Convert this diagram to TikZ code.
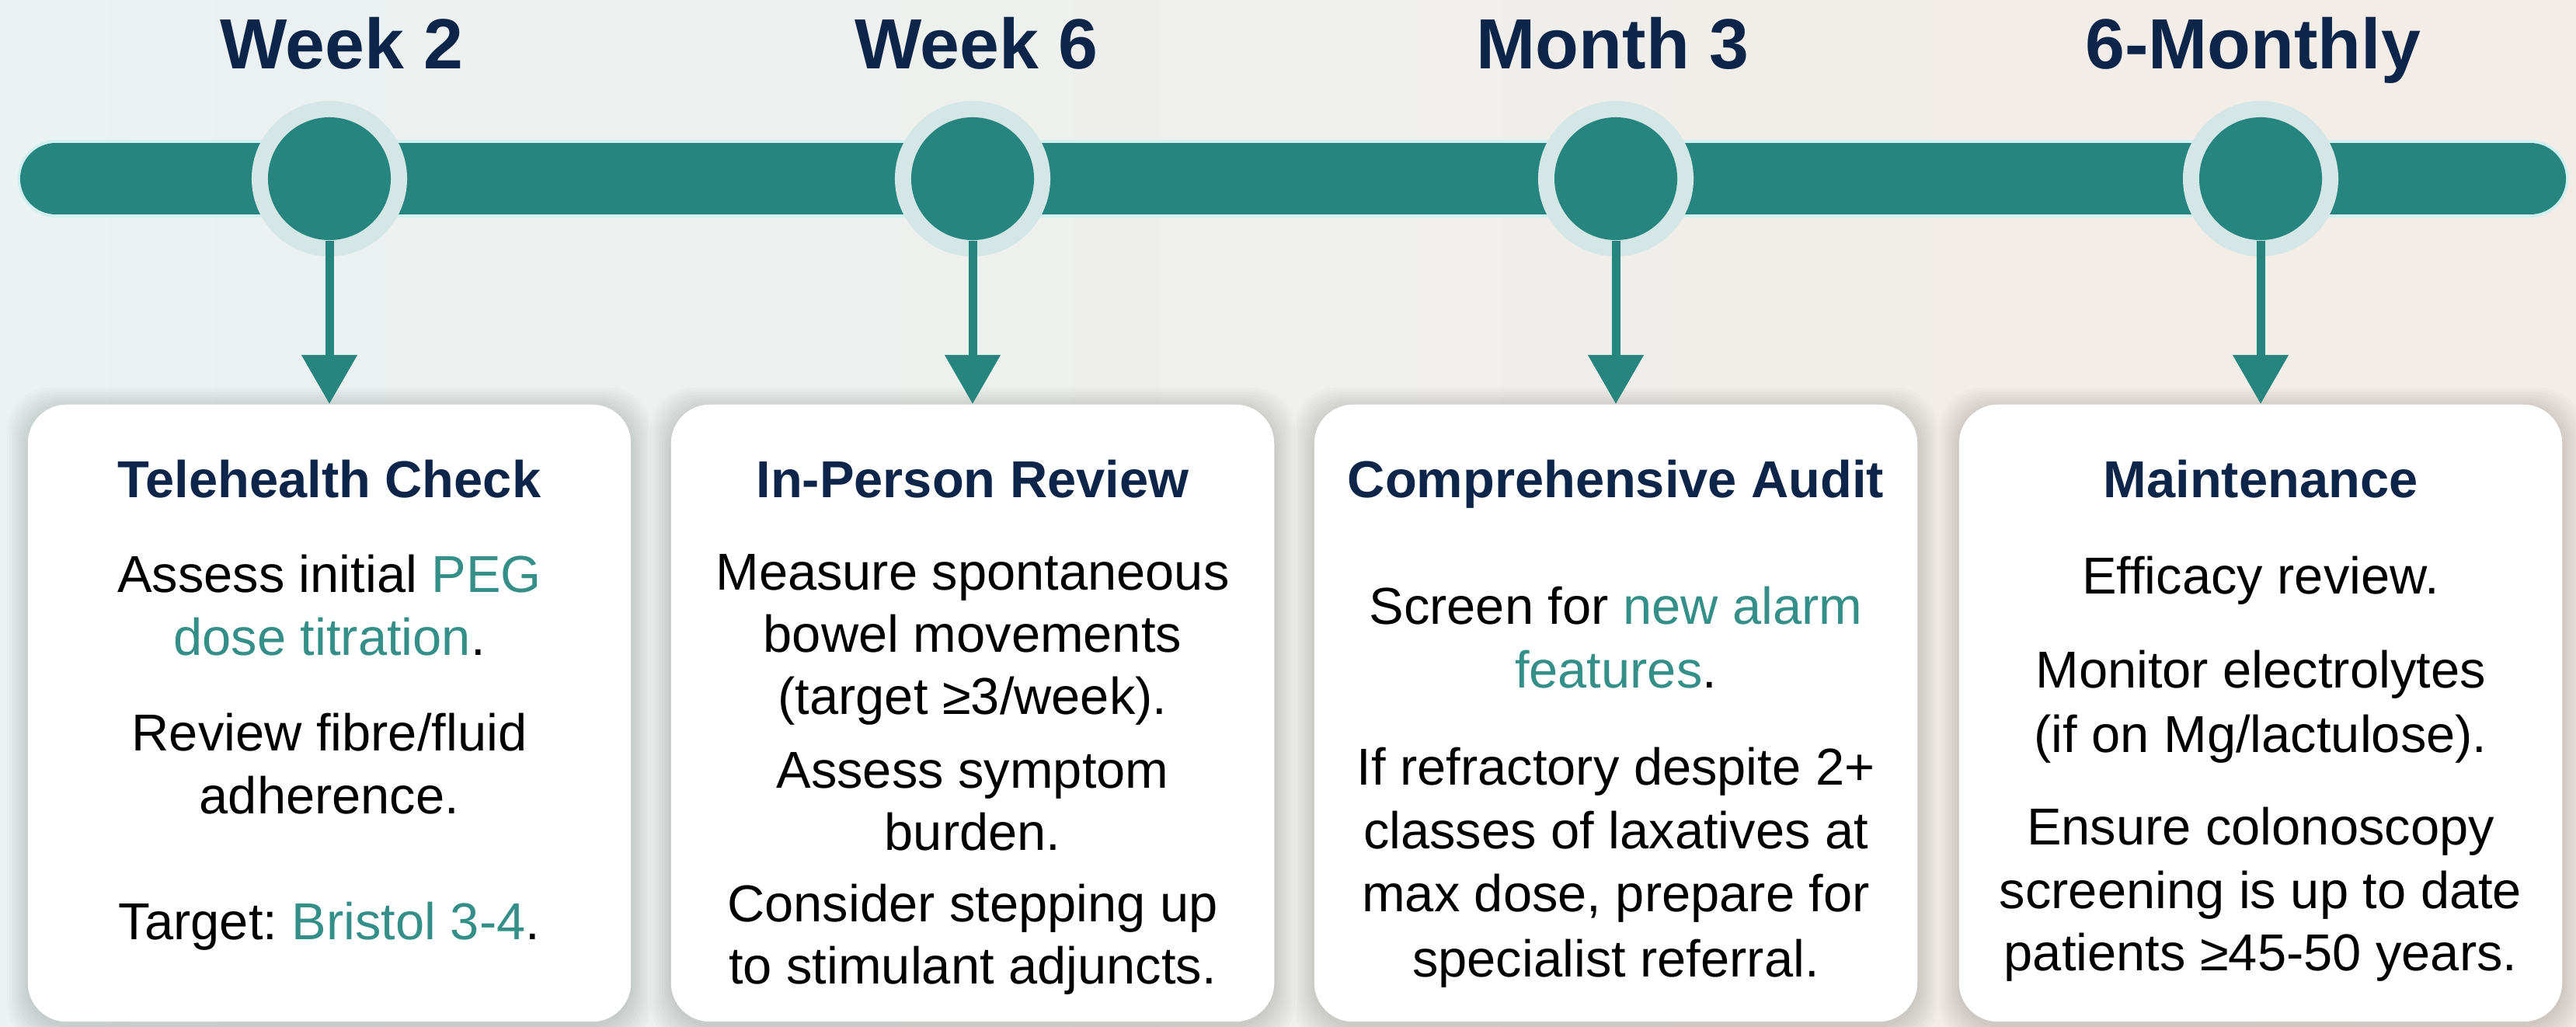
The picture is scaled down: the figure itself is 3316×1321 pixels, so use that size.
\documentclass[tikz,border=0pt]{standalone}
\usepackage{fontspec}
\setmainfont{Liberation Sans}
\usetikzlibrary{arrows.meta}
\definecolor{tealA}{RGB}{39,133,128}
\definecolor{haloC}{RGB}{212,230,229}
\definecolor{navy}{RGB}{12,37,72}
\definecolor{acc}{RGB}{52,143,136}
\definecolor{bgL}{RGB}{234,242,242}
\definecolor{bgR}{RGB}{244,236,230}
\definecolor{barglow}{RGB}{210,240,240}
\newcommand\bodyline[4]{\node[body] (#1) at (#2,#3) {#4};}
\frenchspacing
\begin{document}
\begin{tikzpicture}[x=0.01cm,y=-0.01cm,
  heading/.style={font=\fontsize{26}{30}\selectfont\bfseries, text=navy, anchor=base, inner sep=0},
  cardtitle/.style={font=\fontsize{19}{23}\selectfont\bfseries, text=navy, anchor=base, inner sep=0},
  body/.style={font=\fontsize{19}{23}\selectfont, text=black, anchor=base, inner sep=0},
  card/.style={fill=white, rounded corners=0.5cm, minimum width=7.76cm, minimum height=7.94cm, anchor=north, inner sep=0},
  halo/.style={circle, fill=haloC, minimum size=2cm, inner sep=0},
  dot/.style={circle, fill=tealA, minimum size=1.58cm, inner sep=0},
  conn/.style={draw=tealA, line width=0.11cm, -{Triangle[width=0.69cm,length=0.63cm]}},
]
\useasboundingbox (0,0) rectangle (3316,1321);
\fill[left color=bgL, right color=bgR] (0,0) rectangle (3316,1321);
% card shadows
\foreach \cx in {424,1252,2080,2910}{
  \foreach \i in {1,...,9}{
    \fill[black, opacity=0.016, rounded corners=0.56cm] (\cx-388-\i*3, 520-\i*3+6) rectangle (\cx+388+\i*3, 1314+\i*3+6);
  }
}
% cards
\node[card] (card1) at (424,520) {};
\node[card] (card2) at (1252,520) {};
\node[card] (card3) at (2080,520) {};
\node[card] (card4) at (2910,520) {};
% timeline bar
\coordinate (barL) at (72,230);
\coordinate (barR) at (3257,230);
\draw[barglow, line width=0.99cm, line cap=round] (barL) -- (barR);
\draw[tealA, line width=0.92cm, line cap=round] (barL) -- (barR);
% milestones
\node[halo] (h1) at (424,230) {};
\node[halo] (h2) at (1252,230) {};
\node[halo] (h3) at (2080,230) {};
\node[halo] (h4) at (2910,230) {};
\node[dot] (d1) at (424,230) {};
\node[dot] (d2) at (1252,230) {};
\node[dot] (d3) at (2080,230) {};
\node[dot] (d4) at (2910,230) {};
\draw[conn] (d1.south) -- (card1.north);
\draw[conn] (d2.south) -- (card2.north);
\draw[conn] (d3.south) -- (card3.north);
\draw[conn] (d4.south) -- (card4.north);
% headings
\node[heading] (w1) at (440,88) {Week 2};
\node[heading] (w2) at (1257,88) {Week 6};
\node[heading] (w3) at (2076,88) {Month 3};
\node[heading] (w4) at (2900,88) {6-Monthly};
% titles
\node[cardtitle] (t1) at (424,640) {Telehealth Check};
\node[cardtitle] (t2) at (1252,640) {In-Person Review};
\node[cardtitle] (t3) at (2080,640) {Comprehensive Audit};
\node[cardtitle] (t4) at (2910,640) {Maintenance};
% card 1
\bodyline{a1}{424}{762}{Assess initial \textcolor{acc}{PEG}}
\bodyline{a2}{424}{843}{\textcolor{acc}{dose titration}.}
\bodyline{a3}{424}{966}{Review fibre/fluid}
\bodyline{a4}{424}{1047}{adherence.}
\bodyline{a5}{424}{1209}{Target: \textcolor{acc}{Bristol 3-4}.}
% card 2
\bodyline{b1}{1252}{759}{Measure spontaneous}
\bodyline{b2}{1252}{839}{bowel movements}
\bodyline{b3}{1252}{919}{(target ≥3/week).}
\bodyline{b4}{1252}{1014}{Assess symptom}
\bodyline{b5}{1252}{1094}{burden.}
\bodyline{b6}{1252}{1186}{Consider stepping up}
\bodyline{b7}{1252}{1266}{to stimulant adjuncts.}
% card 3
\bodyline{c1}{2080}{803}{Screen for \textcolor{acc}{new alarm}}
\bodyline{c2}{2080}{885}{\textcolor{acc}{features}.}
\bodyline{c3}{2080}{1010}{If refractory despite 2+}
\bodyline{c4}{2080}{1092}{classes of laxatives at}
\bodyline{c5}{2080}{1173}{max dose, prepare for}
\bodyline{c6}{2080}{1257}{specialist referral.}
% card 4
\bodyline{e1}{2910}{764}{Efficacy review.}
\bodyline{e2}{2910}{885}{Monitor electrolytes}
\bodyline{e3}{2910}{968}{(if on Mg/lactulose).}
\bodyline{e4}{2910}{1087}{Ensure colonoscopy}
\bodyline{e5}{2910}{1169}{screening is up to date}
\bodyline{e6}{2910}{1249}{patients ≥45-50 years.}
\end{tikzpicture}
\end{document}
